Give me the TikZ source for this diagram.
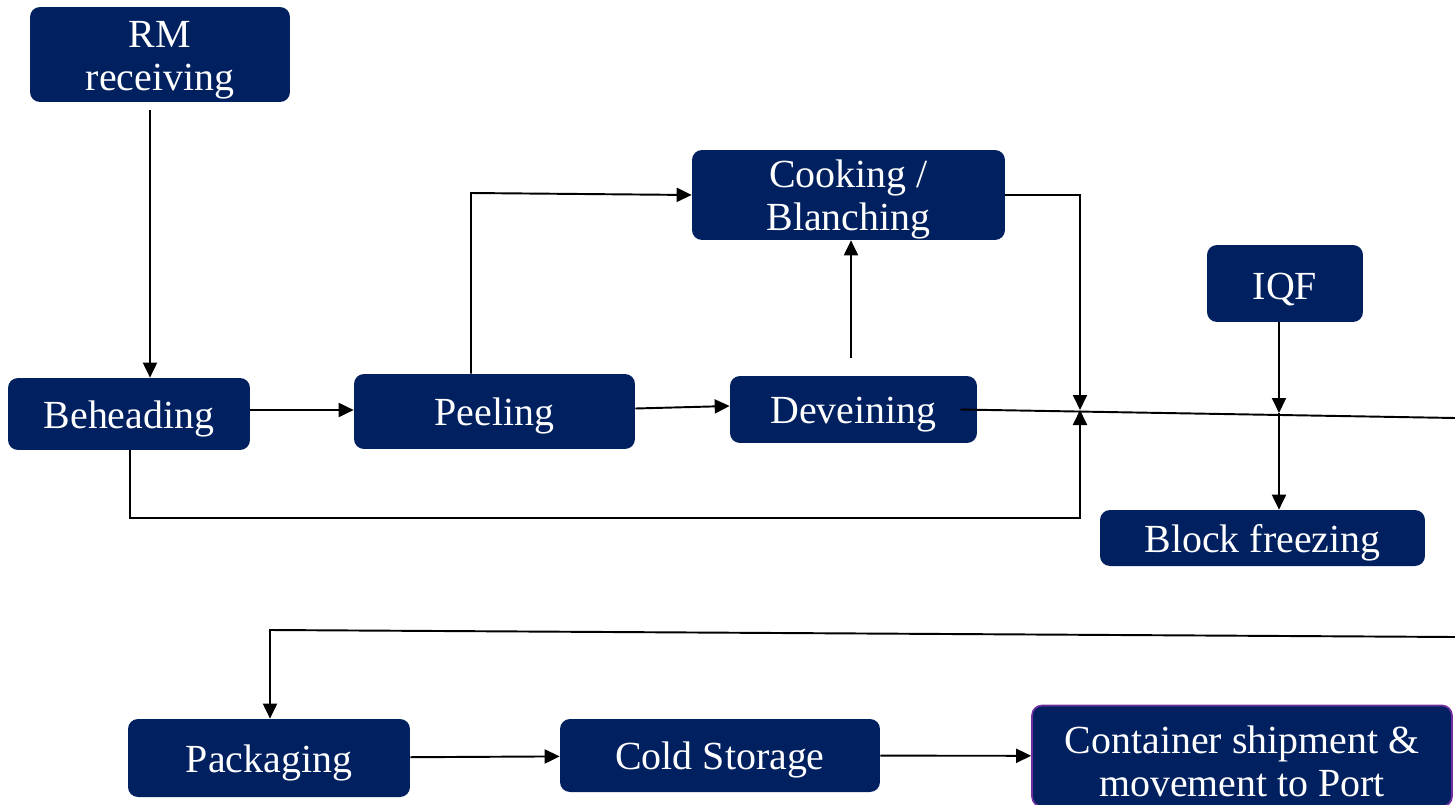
\documentclass[tikz,border=0pt]{standalone}
\usepackage{fontspec}
\setmainfont{Liberation Serif}
\usetikzlibrary{positioning,arrows.meta}

\definecolor{navy}{RGB}{0,32,96}
\definecolor{shipedge}{RGB}{112,48,160}
\newcommand{\lift}{\rule{0pt}{0.75cm}}

\begin{document}
\begin{tikzpicture}[x=0.02cm,y=-0.02cm]
	\tikzset{stage/.style={draw=none,fill=navy,text=white,rounded corners=0.2cm,
		align=center,inner sep=0pt,font=\fontsize{22.7}{24.5}\selectfont,
		execute at begin node={\lift}}}
	\tikzset{flow/.style={line width=1.1pt,-{Triangle[length=0.3cm,width=0.28cm]}}}
	\tikzset{wire/.style={line width=1.1pt}}
	\useasboundingbox (0,0) rectangle (1455,805);

	%% Process steps
	\node[stage,minimum width=5.2cm,minimum height=1.9cm] (rm) at (160,54.5) {\lift RM\\receiving};
	\node[stage,minimum width=4.84cm,minimum height=1.44cm] (behead) at (129,414) {Beheading};
	\node[stage,minimum width=5.62cm,minimum height=1.5cm] (peel) at (494.5,411.5) {Peeling};
	\node[stage,minimum width=4.94cm,minimum height=1.34cm] (devein) at (853.5,409.5) {Deveining};
	\node[stage,minimum width=6.26cm,minimum height=1.8cm] (cook) at (848.5,195) {\lift Cooking /\\Blanching};
	\node[stage,minimum width=3.12cm,minimum height=1.54cm] (iqf) at (1285,283.5) {IQF};
	\node[stage,minimum width=6.5cm,minimum height=1.12cm] (block) at (1262.5,538) {Block freezing};
	\node[stage,minimum width=5.64cm,minimum height=1.56cm] (pack) at (269,758) {Packaging};
	\node[stage,minimum width=6.4cm,minimum height=1.46cm] (cold) at (720,755.5) {Cold Storage};
	\node[stage,draw=shipedge,line width=1pt,minimum width=8.4cm,minimum height=2.02cm] (ship) at (1242,756) {\lift Container shipment \&\\movement to Port};

	%% Bends and junctions
	\coordinate (rk) at (150,110);
	\coordinate (pk) at (471,193);
	\coordinate (dk) at (851,358);
	\coordinate (jn) at (1080,410);
	\coordinate (bk) at (130,518);
	\coordinate (jq) at (1279,413);
	\coordinate (outA) at (1455,418);
	\coordinate (outB) at (1455,637);
	\coordinate (top) at (270,630);

	\draw[flow] (rk) -- (behead.north -| rk);
	\draw[flow] (behead.east) ++(0,-4) -- (peel.west |- 0,410);
	\draw[flow] (peel.east) ++(0,-3) -- (devein.west |- 0,406);
	\draw[flow] (peel.north -| pk) -- (pk) -- (cook.west);
	\draw[flow] (dk) -- (cook.south -| dk);
	\draw[flow] (cook.east) -| (jn);
	\draw[flow] (behead.south -| bk) -- (bk) -| (jn);
	\draw[wire] ([xshift=-0.34cm]devein.east) -- (outA);
	\draw[flow] (iqf.south -| jq) -- (jq);
	\draw[flow] (jq) -- (block.north -| jq);
	\draw[flow] (outB) -- (top) -- (pack.north -| top);
	\draw[flow] (pack) -- (cold);
	\draw[flow] (cold) -- (ship);
\end{tikzpicture}
\end{document}
